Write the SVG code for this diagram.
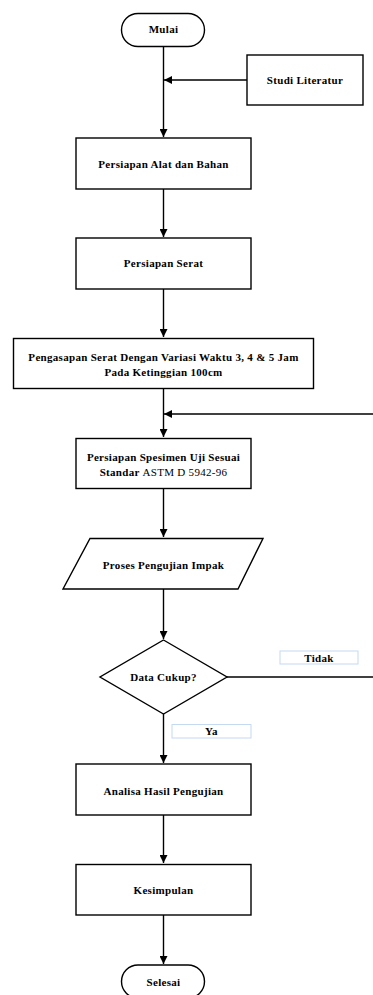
<svg xmlns="http://www.w3.org/2000/svg" width="373" height="995" viewBox="0 0 373 995">
<style>
.s{fill:#fff;stroke:#000;stroke-width:1.4}
.t{font-family:"Liberation Serif","Times New Roman",serif;font-weight:bold;font-size:11px;letter-spacing:0.3px;text-anchor:middle;fill:#000}
.c{fill:none;stroke:#000;stroke-width:1.4}
.lb{fill:#fff;stroke:#c5d9f1;stroke-width:1}
</style>
<defs>
<marker id="a" viewBox="0 0 10 10" refX="10" refY="5" markerWidth="8" markerHeight="8" markerUnits="userSpaceOnUse" orient="auto">
<path d="M0,0L10,5L0,10z" fill="#000"/>
</marker>
</defs>
<g id="connectors">
<path class="c" d="M163.5,46V137" marker-end="url(#a)"/>
<path class="c" d="M247,80H164" marker-end="url(#a)"/>
<path class="c" d="M163.5,189V237" marker-end="url(#a)"/>
<path class="c" d="M163.5,289V337" marker-end="url(#a)"/>
<path class="c" d="M163.5,389V437" marker-end="url(#a)"/>
<path class="c" d="M373,414H164" marker-end="url(#a)"/>
<path class="c" d="M163.5,489V537" marker-end="url(#a)"/>
<path class="c" d="M163.5,589V639" marker-end="url(#a)"/>
<path class="c" d="M227,677H373"/>
<path class="c" d="M163.5,714V763" marker-end="url(#a)"/>
<path class="c" d="M163.5,815V863" marker-end="url(#a)"/>
<path class="c" d="M163.5,915V964" marker-end="url(#a)"/>
</g>
<g id="mulai"><rect class="s" x="121.5" y="13.5" width="83" height="33" rx="16.5"/><text class="t" x="163.5" y="33">Mulai</text></g>
<g id="studi"><rect class="s" x="247" y="55" width="116" height="50"/><text class="t" x="305" y="84">Studi Literatur</text></g>
<g id="alat"><rect class="s" x="76" y="138" width="175" height="51"/><text class="t" x="163.5" y="168">Persiapan Alat dan Bahan</text></g>
<g id="serat"><rect class="s" x="76" y="238" width="175" height="51"/><text class="t" x="163.5" y="267">Persiapan Serat</text></g>
<g id="pengasapan"><rect class="s" x="13.5" y="338.5" width="300" height="50"/><text class="t" x="163.5" y="361">Pengasapan Serat Dengan Variasi Waktu 3, 4 &amp; 5 Jam</text><text class="t" x="163.5" y="376">Pada Ketinggian 100cm</text></g>
<g id="spesimen"><rect class="s" x="76" y="438.5" width="175" height="50"/><text class="t" x="163.5" y="461">Persiapan Spesimen Uji Sesuai</text><text class="t" x="163.5" y="476">Standar <tspan font-weight="normal">ASTM D 5942-96</tspan></text></g>
<g id="proses"><polygon class="s" points="90,538.5 263,538.5 238,589 63,589"/><text class="t" x="163.5" y="569">Proses Pengujian Impak</text></g>
<g id="data"><polygon class="s" points="163.5,640 227,677 163.5,714 100,677"/><text class="t" x="163.5" y="681">Data Cukup?</text></g>
<g id="tidak"><rect class="lb" x="280" y="651" width="78" height="13"/><text class="t" x="319" y="661.5">Tidak</text></g>
<g id="ya"><rect class="lb" x="172" y="724.5" width="79" height="13.5"/><text class="t" x="211.5" y="735">Ya</text></g>
<g id="analisa"><rect class="s" x="76" y="764" width="175" height="51"/><text class="t" x="163.5" y="795">Analisa Hasil Pengujian</text></g>
<g id="kesimpulan"><rect class="s" x="76" y="864.5" width="175" height="50.5"/><text class="t" x="163.5" y="894">Kesimpulan</text></g>
<g id="selesai"><rect class="s" x="121.5" y="965" width="83" height="33" rx="16.5"/><text class="t" x="163.5" y="986">Selesai</text></g>
</svg>
